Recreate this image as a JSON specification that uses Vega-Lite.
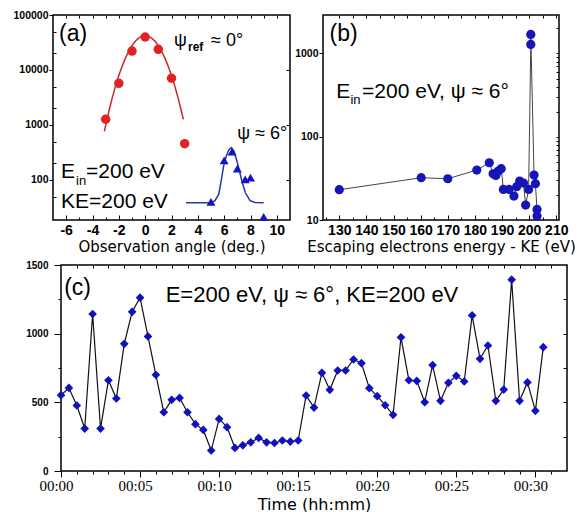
{
  "$schema": "https://vega.github.io/schema/vega-lite/v6.json",
  "autosize": {"type": "pad"},
  "padding": {"left": 12, "top": 9, "right": 0, "bottom": 0},
  "background": "white",
  "config": {
    "view": {"stroke": "#000", "strokeWidth": 1.5},
    "axis": {"grid": false, "domain": false, "tickColor": "#000", "labelColor": "#000", "titleColor": "#000",
             "labelFont": "Liberation Sans", "labelFontWeight": "bold", "titleFont": "DejaVu Sans", "titleFontWeight": "normal",
             "labelFlush": false, "tickWidth": 1},
    "text": {"font": "Liberation Sans", "color": "#000"}
  },
  "spacing": 4,
  "vconcat": [
    {
      "hconcat": [
        {
          "width": 237, "height": 205,
          "resolve": {"axis": {"x": "independent", "y": "independent"}},
          "layer": [
            {
              "data": {"values": [
                {"x": -3.1, "y": 766}, {"x": -2.75, "y": 1798}, {"x": -2.5, "y": 3107}, {"x": -2.25, "y": 5096},
                {"x": -2, "y": 7934}, {"x": -1.75, "y": 11723}, {"x": -1.5, "y": 16447}, {"x": -1.25, "y": 21903},
                {"x": -1, "y": 27686}, {"x": -0.75, "y": 33226}, {"x": -0.5, "y": 37846}, {"x": -0.25, "y": 40920},
                {"x": 0, "y": 42000}, {"x": 0.25, "y": 40920}, {"x": 0.5, "y": 37846}, {"x": 0.75, "y": 33226},
                {"x": 1, "y": 27686}, {"x": 1.25, "y": 21903}, {"x": 1.5, "y": 16447}, {"x": 1.75, "y": 11723},
                {"x": 2, "y": 7934}, {"x": 2.25, "y": 5096}, {"x": 2.5, "y": 3107}, {"x": 2.75, "y": 1798}, {"x": 2.9, "y": 1263}
              ]},
              "mark": {"type": "line", "color": "#c82828", "strokeWidth": 1.5},
              "encoding": {
                "x": {"field": "x", "type": "quantitative",
                      "scale": {"domain": [-7, 11], "nice": false, "zero": false},
                      "axis": {"values": [-6,-4,-2,0,2,4,6,8,10], "labelExpr": "'' + datum.value", "orient": "bottom",
                               "tickSize": -5, "labelPadding": 8, "labelFontSize": 14,
                               "title": "Observation angle (deg.)", "titleFontSize": 15, "titlePadding": 2}},
                "y": {"field": "y", "type": "quantitative",
                      "scale": {"type": "log", "domain": [18.7, 100000], "nice": false},
                      "axis": {"values": [100, 1000, 10000, 100000], "labelExpr": "'' + datum.value", "orient": "left",
                               "tickSize": 4, "labelPadding": 1, "labelFontSize": 10.5, "title": null}}
              }
            },
            {
              "data": {"values": [
                {"x": -3, "y": 1270}, {"x": -2, "y": 5730}, {"x": -1, "y": 22100}, {"x": 0, "y": 39800},
                {"x": 1, "y": 23800}, {"x": 2, "y": 7070}, {"x": 3, "y": 457}
              ]},
              "mark": {"type": "point", "shape": "circle", "filled": true, "size": 90, "color": "#e02222", "opacity": 1},
              "encoding": {
                "x": {"field": "x", "type": "quantitative",
                      "axis": {"values": [-6,-5,-4,-3,-2,-1,0,1,2,3,4,5,6,7,8,9,10], "labels": false, "title": null, "orient": "top", "tickSize": -3, "minExtent": 0}},
                "y": {"field": "y", "type": "quantitative",
                      "axis": {"values": [100, 1000, 10000], "labels": false, "title": null, "orient": "right", "tickSize": -4, "minExtent": 0}}
              }
            },
            {
              "data": {"values": [
                {"x": 3.1, "y": 38.6}, {"x": 5.0, "y": 38.7}, {"x": 5.3, "y": 42}, {"x": 5.59, "y": 55},
                {"x": 5.77, "y": 95}, {"x": 5.96, "y": 180}, {"x": 6.17, "y": 275}, {"x": 6.35, "y": 350},
                {"x": 6.55, "y": 386}, {"x": 6.75, "y": 330}, {"x": 6.97, "y": 221}, {"x": 7.15, "y": 150},
                {"x": 7.35, "y": 95}, {"x": 7.6, "y": 59}, {"x": 7.97, "y": 42}, {"x": 8.35, "y": 38.8}, {"x": 9.0, "y": 38.6}
              ]},
              "mark": {"type": "line", "color": "#2a36a8", "strokeWidth": 1.5},
              "encoding": {"x": {"field": "x", "type": "quantitative", "axis": null}, "y": {"field": "y", "type": "quantitative", "axis": null}}
            },
            {
              "data": {"values": [
                {"x": 5, "y": 40}, {"x": 6, "y": 228}, {"x": 6.6, "y": 327}, {"x": 7, "y": 161},
                {"x": 7.6, "y": 103}, {"x": 8, "y": 110}, {"x": 9, "y": 21.3}
              ]},
              "mark": {"type": "point", "shape": "triangle-up", "filled": true, "size": 80, "color": "#1212c8", "opacity": 1},
              "encoding": {"x": {"field": "x", "type": "quantitative", "axis": null}, "y": {"field": "y", "type": "quantitative", "axis": null}}
            },
            {
              "data": {"values": [{"t": "(a)", "x": -6.54, "y": 33700}]},
              "mark": {"type": "text", "fontSize": 23, "align": "left", "baseline": "alphabetic"},
              "encoding": {"x": {"field": "x", "type": "quantitative",
                                 "axis": {"values": [-5,-3,-1,1,3,5,7,9], "labels": false, "title": null, "orient": "bottom", "tickSize": -3}},
                           "y": {"field": "y", "type": "quantitative",
                                 "axis": {"values": [50, 200, 500, 2000, 5000, 20000, 50000], "labels": false, "title": null, "orient": "left", "tickSize": -3, "minExtent": 0}},
                           "text": {"field": "t"}}
            },
            {
              "data": {"values": [{"t": "ψ", "x": 2.19, "y": 27400}, {"t": "≈ 0°", "x": 5.0, "y": 27400}, {"t": "ψ ≈ 6°", "x": 7.0, "y": 562}]},
              "mark": {"type": "text", "fontSize": 18, "align": "left", "baseline": "alphabetic"},
              "encoding": {"x": {"field": "x", "type": "quantitative", "axis": null}, "y": {"field": "y", "type": "quantitative", "axis": null}, "text": {"field": "t"}}
            },
            {
              "data": {"values": [{"t": "ref", "x": 3.25, "y": 22200}]},
              "mark": {"type": "text", "fontSize": 12, "fontWeight": "bold", "align": "left", "baseline": "alphabetic"},
              "encoding": {"x": {"field": "x", "type": "quantitative", "axis": null}, "y": {"field": "y", "type": "quantitative", "axis": null}, "text": {"field": "t"}}
            },
            {
              "data": {"values": [{"t": "E", "x": -6.39, "y": 110}, {"t": "=200 eV", "x": -4.49, "y": 110}, {"t": "KE=200 eV", "x": -6.39, "y": 30.5}]},
              "mark": {"type": "text", "fontSize": 21, "align": "left", "baseline": "alphabetic"},
              "encoding": {"x": {"field": "x", "type": "quantitative", "axis": null}, "y": {"field": "y", "type": "quantitative", "axis": null}, "text": {"field": "t"}}
            },
            {
              "data": {"values": [{"t": "in", "x": -5.25, "y": 81}]},
              "mark": {"type": "text", "fontSize": 13, "align": "left", "baseline": "alphabetic"},
              "encoding": {"x": {"field": "x", "type": "quantitative", "axis": null}, "y": {"field": "y", "type": "quantitative", "axis": null}, "text": {"field": "t"}}
            }
          ]
        },
        {
          "width": 236, "height": 205,
          "resolve": {"axis": {"x": "independent", "y": "independent"}},
          "layer": [
            {
              "data": {"values": [
                {"i": 1, "x": 130, "y": 23.1}, {"i": 2, "x": 160.2, "y": 32.2}, {"i": 3, "x": 170.0, "y": 31.3},
                {"i": 4, "x": 180.7, "y": 39.8}, {"i": 5, "x": 185.3, "y": 48.7}, {"i": 6, "x": 186.7, "y": 35.9},
                {"i": 7, "x": 187.7, "y": 34.3}, {"i": 8, "x": 188.6, "y": 38.7}, {"i": 9, "x": 189.7, "y": 41.3},
                {"i": 10, "x": 190.5, "y": 23.3}, {"i": 11, "x": 192.6, "y": 23.3}, {"i": 12, "x": 194.4, "y": 19.4},
                {"i": 13, "x": 195.4, "y": 25.1}, {"i": 14, "x": 196.5, "y": 29.4}, {"i": 15, "x": 197.9, "y": 27.8},
                {"i": 16, "x": 198.7, "y": 15.1}, {"i": 17, "x": 199.8, "y": 23.3}, {"i": 18, "x": 200.6, "y": 1285},
                {"i": 19, "x": 200.6, "y": 1694}, {"i": 20, "x": 201.8, "y": 34.7}, {"i": 21, "x": 202.3, "y": 27.3},
                {"i": 22, "x": 202.9, "y": 13.4}, {"i": 23, "x": 202.9, "y": 11.2}
              ]},
              "encoding": {
                "x": {"field": "x", "type": "quantitative",
                      "scale": {"domain": [124, 211], "nice": false, "zero": false},
                      "axis": {"values": [130,140,150,160,170,180,190,200,210], "labelExpr": "'' + datum.value", "orient": "bottom",
                               "tickSize": -5, "labelPadding": 8, "labelFontSize": 14,
                               "title": "Escaping electrons energy - KE (eV)", "titleFontSize": 15, "titlePadding": 2}},
                "y": {"field": "y", "type": "quantitative",
                      "scale": {"type": "log", "domain": [10, 2900], "nice": false},
                      "axis": {"values": [10, 100, 1000], "labelExpr": "'' + datum.value", "orient": "left",
                               "tickSize": 4, "labelPadding": 1, "labelFontSize": 10.5, "title": null}}
              },
              "layer": [
                {"mark": {"type": "line", "color": "#444", "strokeWidth": 1}, "encoding": {"order": {"field": "i", "type": "quantitative"}}},
                {"mark": {"type": "point", "shape": "circle", "filled": true, "size": 85, "color": "#1616b8", "opacity": 1}}
              ]
            },
            {
              "data": {"values": [{"t": "(b)", "x": 126.4, "y": 1410}]},
              "mark": {"type": "text", "fontSize": 23, "align": "left", "baseline": "alphabetic"},
              "encoding": {"x": {"field": "x", "type": "quantitative",
                                 "axis": {"values": [125,135,145,155,165,175,185,195,205], "labels": false, "title": null, "orient": "bottom", "tickSize": -3}},
                           "y": {"field": "y", "type": "quantitative",
                                 "axis": {"values": [20,30,40,50,60,70,80,90,100,200,300,400,500,600,700,800,900,1000,2000], "labels": false, "title": null, "orient": "right", "tickSize": -3, "minExtent": 0}},
                           "text": {"field": "t"}}
            },
            {
              "data": {"values": [{"t": "E", "x": 128.9, "y": 292}, {"t": "=200 eV, ψ ≈ 6°", "x": 138.4, "y": 292}]},
              "mark": {"type": "text", "fontSize": 21, "align": "left", "baseline": "alphabetic"},
              "encoding": {"x": {"field": "x", "type": "quantitative",
                                 "axis": {"values": [130,135,140,145,150,155,160,165,170,175,180,185,190,195,200,205,210], "labels": false, "title": null, "orient": "top", "tickSize": -3, "minExtent": 0}},
                           "y": {"field": "y", "type": "quantitative", "axis": null}, "text": {"field": "t"}}
            },
            {
              "data": {"values": [{"t": "in", "x": 134.1, "y": 247}]},
              "mark": {"type": "text", "fontSize": 13, "align": "left", "baseline": "alphabetic"},
              "encoding": {"x": {"field": "x", "type": "quantitative", "axis": null}, "y": {"field": "y", "type": "quantitative", "axis": null}, "text": {"field": "t"}}
            }
          ]
        }
      ],
      "spacing": 33,
      "bounds": "flush"
    },
    {
      "hconcat": [
        {"width": 8, "height": 10, "data": {"values": []}, "mark": "point", "view": {"stroke": null}},
        {
          "width": 506, "height": 206,
          "resolve": {"axis": {"x": "independent", "y": "independent"}},
          "layer": [
            {
              "data": {"values": [
                {"x": 0, "y": 552}, {"x": 0.5, "y": 605}, {"x": 1, "y": 477}, {"x": 1.5, "y": 309}, {"x": 2, "y": 1143},
                {"x": 2.5, "y": 309}, {"x": 3, "y": 661}, {"x": 3.5, "y": 528}, {"x": 4, "y": 926}, {"x": 4.5, "y": 1159},
                {"x": 5, "y": 1262}, {"x": 5.5, "y": 980}, {"x": 6, "y": 700}, {"x": 6.5, "y": 428}, {"x": 7, "y": 518},
                {"x": 7.5, "y": 532}, {"x": 8, "y": 428}, {"x": 8.5, "y": 341}, {"x": 9, "y": 299}, {"x": 9.5, "y": 149},
                {"x": 10, "y": 379}, {"x": 10.5, "y": 319}, {"x": 11, "y": 168}, {"x": 11.5, "y": 187}, {"x": 12, "y": 209},
                {"x": 12.5, "y": 241}, {"x": 13, "y": 209}, {"x": 13.5, "y": 204}, {"x": 14, "y": 222}, {"x": 14.5, "y": 214},
                {"x": 15, "y": 222}, {"x": 15.5, "y": 550}, {"x": 16, "y": 462}, {"x": 16.5, "y": 715}, {"x": 17, "y": 591},
                {"x": 17.5, "y": 732}, {"x": 18, "y": 732}, {"x": 18.5, "y": 812}, {"x": 19, "y": 785}, {"x": 19.5, "y": 603},
                {"x": 20, "y": 545}, {"x": 20.5, "y": 479}, {"x": 21, "y": 409}, {"x": 21.5, "y": 973}, {"x": 22, "y": 661},
                {"x": 22.5, "y": 656}, {"x": 23, "y": 501}, {"x": 23.5, "y": 771}, {"x": 24, "y": 511}, {"x": 24.5, "y": 642},
                {"x": 25, "y": 693}, {"x": 25.5, "y": 652}, {"x": 26, "y": 1133}, {"x": 26.5, "y": 817}, {"x": 27, "y": 914},
                {"x": 27.5, "y": 511}, {"x": 28, "y": 593}, {"x": 28.5, "y": 1393}, {"x": 29, "y": 511}, {"x": 29.5, "y": 645},
                {"x": 30, "y": 438}, {"x": 30.5, "y": 902}
              ]},
              "encoding": {
                "x": {"field": "x", "type": "quantitative",
                      "scale": {"domain": [0, 32], "nice": false, "zero": false},
                      "axis": {"values": [0, 5, 10, 15, 20, 25, 30],
                               "labelExpr": "'00:' + (datum.value < 10 ? '0' : '') + datum.value", "orient": "bottom",
                               "tickSize": 6, "labelPadding": 1, "labelOffset": -5, "labelFont": "Liberation Serif", "labelFontWeight": "normal", "labelFontSize": 15,
                               "title": "Time (hh:mm)", "titleFontSize": 16, "titlePadding": 3}},
                "y": {"field": "y", "type": "quantitative",
                      "scale": {"domain": [0, 1500], "nice": false},
                      "axis": {"values": [0, 500, 1000, 1500], "labelExpr": "'' + datum.value", "orient": "left",
                               "tickSize": 7, "labelPadding": 6, "labelFontSize": 10, "title": null}}
              },
              "layer": [
                {"mark": {"type": "line", "color": "#111", "strokeWidth": 1.2}},
                {"mark": {"type": "point", "shape": "diamond", "filled": true, "size": 75, "color": "#1010c0", "opacity": 1}}
              ]
            },
            {
              "data": {"values": [{"t": "(c)", "x": 0.2, "y": 1281}]},
              "mark": {"type": "text", "fontSize": 23, "align": "left", "baseline": "alphabetic"},
              "encoding": {"x": {"field": "x", "type": "quantitative",
                                 "axis": {"values": [1,2,3,4,6,7,8,9,11,12,13,14,16,17,18,19,21,22,23,24,26,27,28,29,31], "labels": false, "title": null, "orient": "bottom", "tickSize": 3}},
                           "y": {"field": "y", "type": "quantitative",
                                 "axis": {"values": [250, 750, 1250], "labels": false, "title": null, "orient": "left", "tickSize": 3, "minExtent": 0}},
                           "text": {"field": "t"}}
            },
            {
              "data": {"values": [{"t": "E=200 eV, ψ ≈ 6°, KE=200 eV", "x": 6.62, "y": 1232}]},
              "mark": {"type": "text", "fontSize": 22, "align": "left", "baseline": "alphabetic"},
              "encoding": {"x": {"field": "x", "type": "quantitative",
                                 "axis": {"values": [1,2,3,4,5,6,7,8,9,10,11,12,13,14,15,16,17,18,19,20,21,22,23,24,25,26,27,28,29,30,31], "labels": false, "title": null, "orient": "top", "tickSize": -3, "minExtent": 0}},
                           "y": {"field": "y", "type": "quantitative",
                                 "axis": {"values": [250, 500, 750, 1000, 1250], "labels": false, "title": null, "orient": "right", "tickSize": -4, "minExtent": 0}},
                           "text": {"field": "t"}}
            }
          ]
        }
      ],
      "spacing": 0,
      "bounds": "flush"
    }
  ]
}
